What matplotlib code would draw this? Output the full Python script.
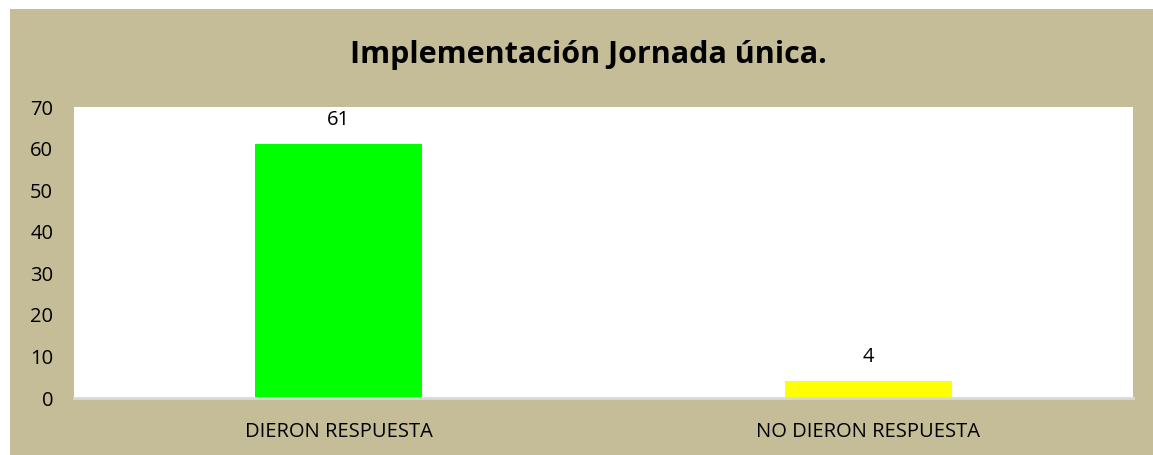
import matplotlib.pyplot as plt
from matplotlib.patches import Rectangle

categorias = ["DIERON RESPUESTA", "NO DIERON RESPUESTA"]
valores = [61, 4]
colores = ["#00FF00", "#FFFF00"]
titulo = "Implementación Jornada única."

W, H = 1153, 455
fig = plt.figure(figsize=(W / 100, H / 100), dpi=100, facecolor="white")
plt.rcParams['font.family'] = ['Open Sans', 'DejaVu Sans']

# fondo beige con margen blanco arriba e izquierda
fondo = Rectangle((10 / W, 0), 1 - 10 / W, 1 - 9 / H, transform=fig.transFigure,
                  facecolor="#C4BD97", edgecolor="none", zorder=-10)
fig.add_artist(fondo)

ax = fig.add_axes([74 / W, 1 - 398 / H, (1133 - 74) / W, (398 - 107) / H])
ax.set_zorder(1)
ax.set_facecolor("white")

x = range(len(categorias))
bars = ax.bar(x, valores, width=0.315, color=colores)
for b, v in zip(bars, valores):
    ax.text(b.get_x() + b.get_width() / 2, v + 5.8, str(v), ha="center", va="center", fontsize=14.5)

ax.set_xlim(-0.5, 1.5)
ax.set_ylim(0, 70)
ax.set_yticks(range(0, 80, 10))
ax.set_xticks(list(x))
ax.set_xticklabels(categorias)
ax.tick_params(axis="both", length=0, labelsize=14.5)
ax.tick_params(axis="y", pad=15)
ax.tick_params(axis="x", pad=17)
for s in ["top", "right", "left"]:
    ax.spines[s].set_visible(False)
ax.spines["bottom"].set_color("#D9D9D9")
ax.spines["bottom"].set_linewidth(2)

fig.text(588 / W, 1 - 55 / H, titulo, ha="center", va="center", fontsize=22, fontweight="bold", zorder=5)

fig.savefig("out.png", dpi=100, facecolor=fig.get_facecolor())
